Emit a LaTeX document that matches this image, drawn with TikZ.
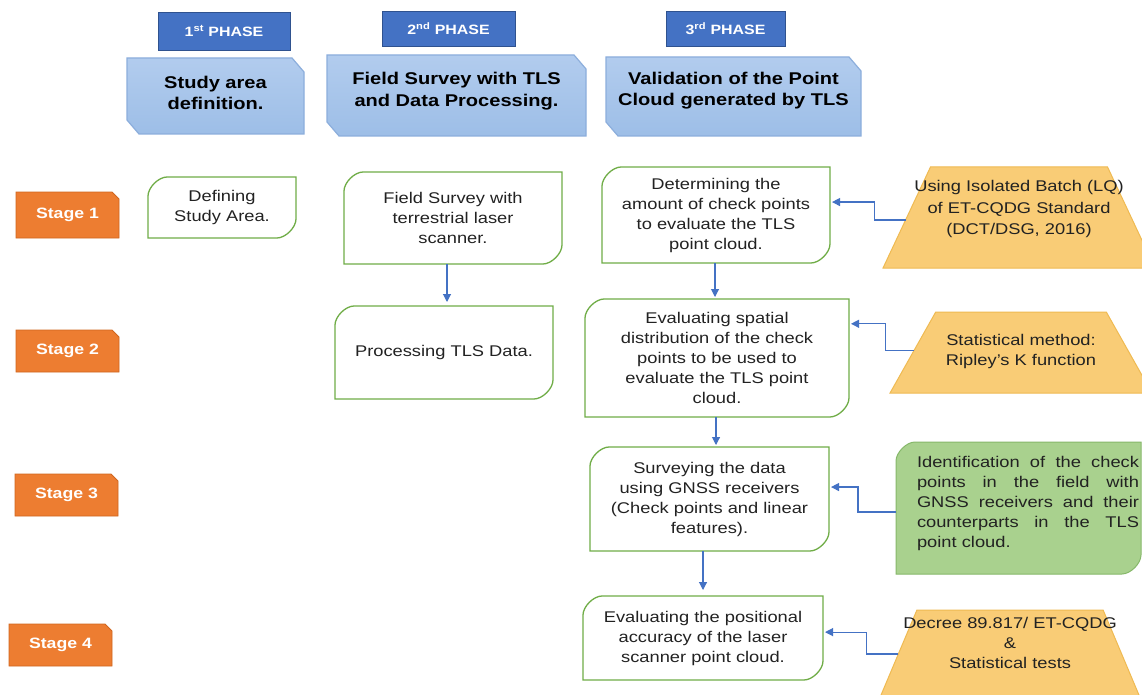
\documentclass[tikz,border=0pt]{standalone}
\usepackage{fontspec}
\setmainfont{Liberation Sans}[FakeStretch=1.18]
\usetikzlibrary{shapes.geometric,calc,arrows.meta}
\definecolor{phdark}{HTML}{4472C4}
\definecolor{phdarkb}{HTML}{2F528F}
\definecolor{phtop}{HTML}{B2CCEE}
\definecolor{phbot}{HTML}{9DBEE7}
\definecolor{phline}{HTML}{8CAEDC}
\definecolor{stfill}{HTML}{ED7D31}
\definecolor{stline}{HTML}{D0661F}
\definecolor{gline}{HTML}{70AD47}
\definecolor{trfill}{HTML}{F9CC76}
\definecolor{trline}{HTML}{EFBA52}
\definecolor{gfill}{HTML}{A9D18E}
\definecolor{gfline}{HTML}{86B86A}
\definecolor{arr}{HTML}{4472C4}
\definecolor{txt}{HTML}{222222}
\newcommand\rdr{19}
\newcommand\rdk{8.5}
% box with rounded top-left and bottom-right corners
\newcommand\rdbox[7]{%
  \draw[#6] (#2,{#3+\rdr}) .. controls (#2,{#3+\rdr-\rdk}) and ({#2+\rdr-\rdk},#3) .. ({#2+\rdr},#3) -- (#4,#3) -- (#4,{#5-\rdr}) .. controls (#4,{#5-\rdr+\rdk}) and ({#4-\rdr+\rdk},#5) .. ({#4-\rdr},#5) -- (#2,#5) -- cycle;
  \node[boxtxt, minimum width={(#4-#2)*1pt}, minimum height={(#5-#3)*1pt}] (#1) at ({(#2+#4)/2},{(#3+#5)/2}) {#7};
}
% phase box: snipped top-right and bottom-left corners
\newcommand\phbox[5]{%
  \path[phboxstyle] (#2,#3) -- ({#4-12},#3) -- (#4,{#3+14}) -- (#4,#5) -- ({#2+12},#5) -- (#2,{#5-14}) -- cycle;
  \node[inner sep=0pt, outer sep=0pt, minimum width={(#4-#2)*1pt}, minimum height={(#5-#3)*1pt}] (#1) at ({(#2+#4)/2},{(#3+#5)/2}) {};
}
% stage box: snipped top-right corner
\newcommand\stbox[6]{%
  \path[stboxstyle] (#2,#3) -- ({#4-7},#3) -- (#4,{#3+7}) -- (#4,#5) -- (#2,#5) -- cycle;
  \node[sttext, minimum width={(#4-#2)*1pt}, minimum height={(#5-#3)*1pt}] (#1) at ({(#2+#4)/2},{(#3+#5)/2}) {#6};
}
\newcommand\jline[1]{\leavevmode\hbox to 222pt{#1}}
\tikzset{
 boxtxt/.style={align=center, inner sep=0pt, outer sep=0pt, text=txt, font=\fontsize{15.5}{20}\selectfont},
 wbox/.style={draw=gline, line width=1.3pt, fill=white},
 phhead/.style={rectangle, fill=phdark, draw=phdarkb, line width=0.8pt, text=white, font=\bfseries\fontsize{13.5}{16}\selectfont, inner sep=0pt},
 phboxstyle/.style={top color=phtop, bottom color=phbot, draw=phline, line width=1.2pt},
 phtext/.style={align=center, font=\bfseries\fontsize{17}{21.5}\selectfont, text=black, inner sep=0pt},
 stboxstyle/.style={fill=stfill, draw=stline, line width=0.8pt},
 sttext/.style={inner sep=0pt, outer sep=0pt, text=white, font=\bfseries\fontsize{15}{18}\selectfont},
 trap/.style={trapezium, trapezium stretches=true, trapezium angle=75, fill=trfill, draw=trline, line width=1pt, inner sep=2pt, outer sep=0pt},
 conn/.style={draw=arr, line width=1.1pt, -{Triangle[width=8pt,length=8pt]}, shorten >=2pt},
}
\begin{document}
\begin{tikzpicture}[x=1pt,y=-1pt]
\useasboundingbox (0,0) rectangle (1142,695);
\clip (0,0) rectangle (1142,695);
\fill[white] (0,0) rectangle (1142,695);

% phase headers
\node[phhead, minimum width=132pt, minimum height=38pt] (ph1) at (224,31) {1\textsuperscript{st} PHASE};
\node[phhead, minimum width=133pt, minimum height=35pt] (ph2) at (448.5,28.5) {2\textsuperscript{nd} PHASE};
\node[phhead, minimum width=119pt, minimum height=35pt] (ph3) at (725.5,28.5) {3\textsuperscript{rd} PHASE};

% phase boxes
\phbox{pb1}{127}{58}{304}{134}
\node[phtext] (pb1t) at (215.5,93) {Study area\\definition.};
\phbox{pb2}{327}{55}{586}{136}
\node[phtext] (pb2t) at (456.5,91) {Field Survey with TLS\\and Data Processing.};
\phbox{pb3}{606}{57}{861}{136}
\node[phtext] (pb3t) at (733.5,90.5) {Validation of the Point\\Cloud generated by TLS};

% stages
\stbox{s1}{16}{192}{119}{238}{Stage 1}
\stbox{s2}{16}{330}{119}{372}{Stage 2}
\stbox{s3}{15}{474}{118}{516}{Stage 3}
\stbox{s4}{9}{624}{112}{666}{Stage 4}

% process boxes
\rdbox{d1}{148}{177}{296}{238}{wbox}{Defining\\Study Area.}
\rdbox{f1}{344}{172}{562}{264}{wbox}{Field Survey with\\terrestrial laser\\scanner.}
\rdbox{p1}{335}{306}{553}{399}{wbox}{Processing TLS Data.}
\rdbox{c1}{602}{167}{830}{263}{wbox}{Determining the\\amount of check points\\to evaluate the TLS\\point cloud.}
\rdbox{c2}{585}{299}{849}{417}{wbox}{Evaluating spatial\\distribution of the check\\points to be used to\\evaluate the TLS point\\cloud.}
\rdbox{c3}{590}{447}{829}{551}{wbox}{Surveying the data\\using GNSS receivers\\(Check points and linear\\features).}
\rdbox{c4}{583}{596}{823}{680}{wbox}{Evaluating the positional\\accuracy of the laser\\scanner point cloud.}

% right side inputs
\node[trap, minimum width=272pt, minimum height=101pt] (t1) at (1019,217.5) {};
\node[boxtxt, font=\fontsize{15.5}{21.5}\selectfont] (t1t) at (1019,209) {Using Isolated Batch (LQ)\\of ET-CQDG Standard\\(DCT/DSG, 2016)};
\node[trap, minimum width=262pt, minimum height=81pt] (t2) at (1021,352.5) {};
\node[boxtxt] (t2t) at (1021,351) {Statistical method:\\Ripley’s K function};
\rdbox{g1}{896}{442}{1141}{574}{draw=gfline, fill=gfill, line width=1pt}{}
\node[boxtxt, align=left, text width=222pt] (g1t) at (1028,503) {\jline{Identification\hfill of\hfill the\hfill check}\\\jline{points\hfill in\hfill the\hfill field\hfill with}\\\jline{GNSS\hfill receivers\hfill and\hfill their}\\\jline{counterparts\hfill in\hfill the\hfill TLS}\\point cloud.};
\node[trap, trapezium angle=76, minimum width=279pt, minimum height=110pt] (t4) at (1010,665) {};
\node[boxtxt] (t4t) at (1010,643) {Decree 89.817/ ET-CQDG\\\&\\Statistical tests};

% vertical flow arrows
\coordinate (v1) at (447,0);
\coordinate (v2) at (715,0);
\coordinate (v3) at (716,0);
\coordinate (v4) at (703,0);
\draw[conn, shorten >=4pt] (f1.south -| v1) -- (p1.north -| v1);
\draw[conn] (c1.south -| v2) -- (c2.north -| v2);
\draw[conn] (c2.south -| v3) -- (c3.north -| v3);
\draw[conn, shorten >=6pt] (c3.south -| v4) -- (c4.north -| v4);

% elbow connectors
\coordinate (c1r) at ($(c1.north east)!0.365!(c1.south east)$);
\coordinate (t1l) at ($(t1.top left corner)!0.525!(t1.bottom left corner)$);
\draw[conn] (t1l) -- ++(-31,0) |- (c1r);
\coordinate (c2r) at ($(c2.north east)!0.21!(c2.south east)$);
\coordinate (t2l) at ($(t2.top left corner)!0.48!(t2.bottom left corner)$);
\draw[conn] (t2l) -- ++(-28,0) |- (c2r);
\coordinate (c3r) at ($(c3.north east)!0.385!(c3.south east)$);
\coordinate (g1l) at ($(g1.north west)!0.53!(g1.south west)$);
\draw[conn] (g1l) -- ++(-38,0) |- (c3r);
\coordinate (c4r) at ($(c4.north east)!0.43!(c4.south east)$);
\coordinate (t4l) at ($(t4.top left corner)!0.4!(t4.bottom left corner)$);
\draw[conn] (t4l) -- ++(-32,0) |- (c4r);
\end{tikzpicture}
\end{document}
